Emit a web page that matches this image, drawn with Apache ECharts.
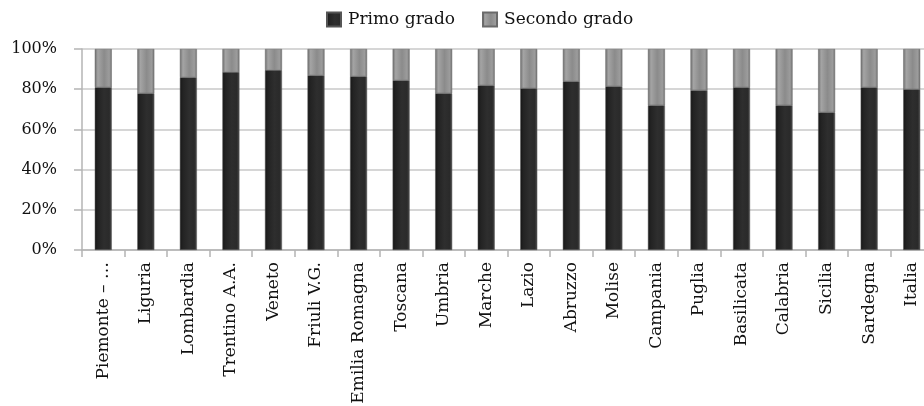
<!DOCTYPE html>
<html>
<head>
<meta charset="utf-8">
<script src="https://cdn.jsdelivr.net/npm/echarts@6/dist/echarts.min.js"></script>
<style>
  html, body { margin: 0; padding: 0; background: #ffffff; }
  #chart { width: 924px; height: 406px; }
</style>
</head>
<body>
<div id="chart"></div>
<script>
// Regions (Italy) and share of each school grade, in percent
const regions = [
  'Piemonte – …', 'Liguria', 'Lombardia', 'Trentino A.A.', 'Veneto', 'Friuli V.G.',
  'Emilia Romagna', 'Toscana', 'Umbria', 'Marche', 'Lazio', 'Abruzzo', 'Molise',
  'Campania', 'Puglia', 'Basilicata', 'Calabria', 'Sicilia', 'Sardegna', 'Italia'
];
const primoGrado = [81, 78, 86, 88.5, 89.5, 87, 86.5, 84.5, 78, 82, 80.5, 84, 81.5, 72, 79.5, 81, 72, 68.5, 81, 80];
const secondoGrado = [19, 22, 14, 11.5, 10.5, 13, 13.5, 15.5, 22, 18, 19.5, 16, 18.5, 28, 20.5, 19, 28, 31.5, 19, 20];
const seriesNames = ['Primo grado', 'Secondo grado'];
const yTicks = [0, 20, 40, 60, 80, 100];

const FONT = 'DejaVu Serif';

// bevelled look: horizontal shading across each bar
const darkFill = new echarts.graphic.LinearGradient(0, 0, 1, 0, [
  { offset: 0, color: '#161616' },
  { offset: 0.18, color: '#232323' },
  { offset: 0.55, color: '#2e2e2e' },
  { offset: 0.85, color: '#2a2a2a' },
  { offset: 1, color: '#4c4c4c' }
]);
const lightFill = new echarts.graphic.LinearGradient(0, 0, 1, 0, [
  { offset: 0, color: '#6c6c6c' },
  { offset: 0.18, color: '#a4a4a4' },
  { offset: 0.55, color: '#8b8b8b' },
  { offset: 0.85, color: '#9c9c9c' },
  { offset: 1, color: '#707070' }
]);

const chart = echarts.init(document.getElementById('chart'), null, { renderer: 'canvas' });

chart.setOption({
  animation: false,
  backgroundColor: '#ffffff',
  textStyle: { fontFamily: FONT },
  legend: {
    data: seriesNames,
    top: 6,
    left: 321,
    itemWidth: 14,
    itemHeight: 14,
    itemGap: 27,
    icon: 'rect',
    textStyle: { fontFamily: FONT, fontSize: 17, color: '#111', padding: [0, 0, 0, 2] }
  },
  // the plot runs slightly past the right edge of the canvas
  grid: { left: 82, width: 851, top: 49, bottom: 156, containLabel: false, outerBoundsMode: 'none' },
  xAxis: {
    type: 'category',
    data: regions,
    axisLine: { lineStyle: { color: '#b4b4b4', width: 1.5 } },
    axisTick: { show: true, length: 7, lineStyle: { color: '#b4b4b4', width: 1.5 } },
    axisLabel: {
      rotate: 90,
      interval: 0,
      margin: 12,
      fontFamily: FONT,
      fontSize: 17,
      color: '#111'
    }
  },
  yAxis: {
    type: 'value',
    min: yTicks[0],
    max: yTicks[yTicks.length - 1],
    interval: 20,
    axisLine: { show: true, lineStyle: { color: '#b4b4b4', width: 1.5 } },
    axisTick: { show: true, length: 8, lineStyle: { color: '#b4b4b4', width: 1.5 } },
    splitLine: { lineStyle: { color: '#c8c8c8', width: 1.5 } },
    axisLabel: {
      formatter: '{value}%',
      margin: 25,
      fontFamily: FONT,
      fontSize: 16,
      color: '#111'
    }
  },
  series: [
    {
      name: seriesNames[0],
      type: 'bar',
      stack: 'total',
      barWidth: 17,
      data: primoGrado,
      itemStyle: { color: darkFill, borderColor: '#555', borderWidth: 0.5 }
    },
    {
      name: seriesNames[1],
      type: 'bar',
      stack: 'total',
      barWidth: 17,
      data: secondoGrado,
      itemStyle: { color: lightFill, borderColor: '#6a6a6a', borderWidth: 0.5 }
    }
  ]
});
</script>
</body>
</html>
